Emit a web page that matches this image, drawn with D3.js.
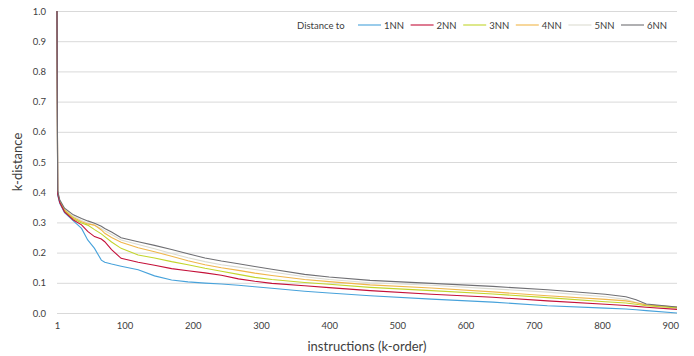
<!DOCTYPE html>
<html>
<head>
<meta charset="utf-8">
<script src="https://cdn.jsdelivr.net/npm/d3@7"></script>
<style>
    body { margin: 0; background: #fff; }
    svg text { font-family: Lato, "Open Sans", sans-serif; fill: #404040; }
    .grid line { stroke: #d9d9d9; stroke-width: 1; }
    .series { fill: none; stroke-width: 1.1; }
</style>
</head>
<body>
<svg width="694" height="356"></svg>
<script>
"use strict";

// instruction index (k-order) at which the values were read
var order = [1, 2, 5, 12, 25, 37, 46, 56, 66, 71, 81, 95, 120, 144, 169,
        193, 218, 242, 267, 291, 316, 364, 400, 460, 550, 640, 720, 805, 835,
        850, 865, 910];

var nn1 = [1.0, 0.39, 0.363, 0.332, 0.305, 0.28, 0.242, 0.214, 0.175, 0.168,
        0.162, 0.155, 0.143, 0.123, 0.109, 0.103, 0.099, 0.096, 0.092, 0.087,
        0.082, 0.072, 0.066, 0.057, 0.046, 0.036, 0.024, 0.016, 0.013, 0.011,
        0.008, 0.0];
var nn2 = [1.0, 0.394, 0.366, 0.335, 0.308, 0.292, 0.27, 0.253, 0.245, 0.236,
        0.21, 0.181, 0.168, 0.158, 0.147, 0.14, 0.133, 0.125, 0.113, 0.105,
        0.098, 0.09, 0.084, 0.074, 0.062, 0.052, 0.04, 0.029, 0.025, 0.022,
        0.019, 0.012];
var nn3 = [1.0, 0.396, 0.368, 0.338, 0.312, 0.298, 0.291, 0.276, 0.262,
        0.253, 0.235, 0.214, 0.192, 0.182, 0.17, 0.16, 0.148, 0.138, 0.128,
        0.118, 0.111, 0.101, 0.095, 0.085, 0.074, 0.063, 0.051, 0.037, 0.033,
        0.029, 0.024, 0.017];
var nn4 = [1.0, 0.398, 0.37, 0.341, 0.316, 0.302, 0.295, 0.291, 0.275, 0.264,
        0.25, 0.234, 0.216, 0.203, 0.188, 0.173, 0.16, 0.15, 0.141, 0.132,
        0.124, 0.111, 0.104, 0.093, 0.083, 0.07, 0.057, 0.045, 0.04, 0.034,
        0.027, 0.02];
var nn5 = [1.0, 0.4, 0.372, 0.344, 0.32, 0.306, 0.298, 0.29, 0.28, 0.272,
        0.26, 0.242, 0.227, 0.213, 0.197, 0.183, 0.17, 0.16, 0.152, 0.144,
        0.136, 0.12, 0.111, 0.1, 0.092, 0.08, 0.069, 0.054, 0.045, 0.035,
        0.026, 0.019];
var nn6 = [1.0, 0.405, 0.375, 0.347, 0.325, 0.313, 0.305, 0.297, 0.287, 0.28,
        0.268, 0.249, 0.236, 0.224, 0.21, 0.196, 0.182, 0.172, 0.163, 0.154,
        0.145, 0.128, 0.119, 0.108, 0.098, 0.088, 0.077, 0.062, 0.054, 0.044,
        0.03, 0.02];

var seriesNames = ["1NN", "2NN", "3NN", "4NN", "5NN", "6NN"];
var seriesValues = [nn1, nn2, nn3, nn4, nn5, nn6];
var seriesColors = ["#47a2db", "#c41039", "#c2d52c", "#f0b64a", "#dcdcd2",
        "#6f6f73"];

var xTicks = [1, 100, 200, 300, 400, 500, 600, 700, 800, 900];
var yTicks = [0, 0.1, 0.2, 0.3, 0.4, 0.5, 0.6, 0.7, 0.8, 0.9, 1.0];

var margin = {
    top: 11, // px
    left: 57, // px
    bottom: 43, // px
    right: 17 // px
};
var svg = d3.select("svg");
var width = +svg.attr("width") - margin.left - margin.right;
var height = +svg.attr("height") - margin.top - margin.bottom;

var x = d3.scaleLinear().domain([1, 910]).range([0, width]);
var y = d3.scaleLinear().domain([0, 1]).range([height, 0]);

var main = svg.append("g")
    .attr("transform", "translate(" + margin.left + "," + margin.top + ")");

// horizontal gridlines
main.append("g")
    .attr("class", "grid")
    .call(d3.axisLeft(y).tickValues(yTicks).tickSize(-width).tickFormat(""))
    .call(function (g) {
        g.select(".domain").remove();
    });

// y tick labels
main.append("g")
    .call(d3.axisLeft(y).tickValues(yTicks).tickSize(0).tickPadding(11)
        .tickFormat(d3.format(".1f")))
    .call(function (g) {
        g.select(".domain").remove();
        g.selectAll("text").attr("font-size", 9.5).attr("fill", "#404040");
    });

// x tick labels
main.append("g")
    .attr("transform", "translate(0," + height + ")")
    .call(d3.axisBottom(x).tickValues(xTicks).tickSize(0).tickPadding(9)
        .tickFormat(d3.format("d")))
    .call(function (g) {
        g.select(".domain").remove();
        g.selectAll("text").attr("font-size", 9.5).attr("fill", "#404040");
    });

var line = d3.line()
    .x(function (d) {
        return x(d[0]);
    })
    .y(function (d) {
        return y(d[1]);
    });

// draw the lightest first so darker lines stay on top like the original
[4, 3, 2, 0, 1, 5].forEach(function (k) {
    main.append("path")
        .datum(d3.zip(order, seriesValues[k]))
        .attr("class", "series")
        .attr("stroke", seriesColors[k])
        .attr("d", line);
});

// axis titles
svg.append("text")
    .attr("x", margin.left + width / 2)
    .attr("y", 351)
    .attr("text-anchor", "middle")
    .attr("font-size", 13)
    .text("instructions (k-order)");

svg.append("text")
    .attr("transform", "translate(22," + (margin.top + height / 2) +
            ")rotate(-90)")
    .attr("text-anchor", "middle")
    .attr("font-size", 13)
    .text("k-distance");

// legend
var legend = svg.append("g").attr("transform", "translate(297,25)");
legend.append("text")
    .attr("y", 3.5)
    .attr("font-size", 9.5)
    .text("Distance to");
seriesNames.forEach(function (name, i) {
    var item = legend.append("g")
        .attr("transform", "translate(" + (61 + i * 52.6) + ",0)");
    item.append("line")
        .attr("x1", 0)
        .attr("x2", 23)
        .attr("stroke", seriesColors[i])
        .attr("stroke-width", 1.1);
    item.append("text")
        .attr("x", 26)
        .attr("y", 3.5)
        .attr("font-size", 9.5)
        .text(name);
});
</script>
</body>
</html>
